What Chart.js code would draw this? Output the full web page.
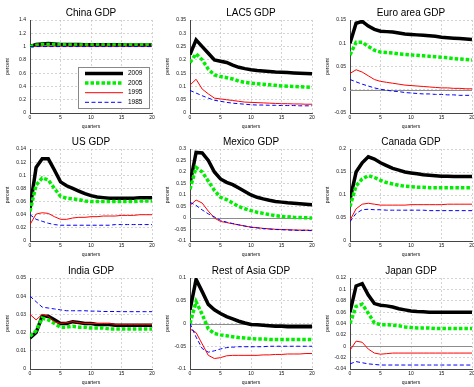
<!DOCTYPE html>
<html>
<head>
<meta charset="utf-8">
<script src="https://cdn.jsdelivr.net/npm/chart.js@4/dist/chart.umd.min.js"></script>
<style>
  html, body { margin: 0; padding: 0; background: #fff; }
  body { width: 474px; height: 387px; position: relative; overflow: hidden; }
  canvas { position: absolute; }
</style>
</head>
<body>
<script>
// x axis: quarters after the shock
const quarters = [0,1,2,3,4,5,6,7,8,9,10,11,12,13,14,15,16,17,18,19,20];
const vintages = ['2009', '2005', '1995', '1985'];

// China GDP
const china2009 = [1.0,1.03,1.04,1.045,1.04,1.033,1.03,1.03,1.03,1.028,1.028,1.027,1.027,1.026,1.026,1.026,1.025,1.025,1.025,1.025,1.025];
const china2005 = [1.0,1.02,1.03,1.03,1.03,1.026,1.025,1.025,1.025,1.025,1.025,1.025,1.025,1.025,1.025,1.025,1.025,1.025,1.025,1.025,1.025];
const china1995 = [1.0,1.004,1.005,1.005,1.005,1.005,1.005,1.005,1.005,1.005,1.005,1.005,1.005,1.005,1.005,1.005,1.005,1.005,1.005,1.005,1.005];
const china1985 = [1.0,1.0,1.0,1.0,1.0,1.0,1.0,1.0,1.0,1.0,1.0,1.0,1.0,1.0,1.0,1.0,1.0,1.0,1.0,1.0,1.0];

// LAC5 GDP
const lac2009 = [0.22,0.275,0.25,0.225,0.2,0.195,0.19,0.18,0.172,0.167,0.163,0.16,0.158,0.156,0.154,0.153,0.152,0.151,0.15,0.149,0.148];
const lac2005 = [0.19,0.223,0.2,0.165,0.143,0.137,0.133,0.128,0.12,0.115,0.112,0.11,0.108,0.106,0.104,0.102,0.101,0.1,0.099,0.098,0.097];
const lac1995 = [0.105,0.127,0.09,0.072,0.056,0.053,0.05,0.047,0.044,0.041,0.04,0.039,0.038,0.037,0.036,0.035,0.035,0.034,0.034,0.033,0.033];
const lac1985 = [0.085,0.075,0.065,0.056,0.048,0.044,0.04,0.037,0.035,0.033,0.031,0.03,0.03,0.029,0.029,0.028,0.028,0.028,0.027,0.027,0.027];

// Euro area GDP
const euro2009 = [0.1,0.143,0.147,0.137,0.13,0.126,0.125,0.124,0.122,0.12,0.119,0.118,0.117,0.116,0.115,0.113,0.112,0.111,0.11,0.109,0.108];
const euro2005 = [0.075,0.102,0.102,0.093,0.085,0.081,0.08,0.079,0.077,0.076,0.075,0.074,0.073,0.072,0.071,0.07,0.069,0.067,0.066,0.065,0.064];
const euro1995 = [0.035,0.043,0.038,0.03,0.022,0.018,0.016,0.014,0.012,0.01,0.009,0.008,0.007,0.006,0.005,0.004,0.004,0.003,0.003,0.002,0.002];
const euro1985 = [0.022,0.017,0.012,0.008,0.004,0.001,-0.001,-0.003,-0.004,-0.006,-0.007,-0.008,-0.009,-0.009,-0.01,-0.01,-0.011,-0.011,-0.012,-0.012,-0.012];

// US GDP
const us2009 = [0.05,0.112,0.125,0.125,0.108,0.09,0.084,0.08,0.076,0.072,0.069,0.067,0.066,0.065,0.065,0.065,0.065,0.065,0.066,0.066,0.066];
const us2005 = [0.045,0.085,0.096,0.093,0.08,0.068,0.065,0.064,0.063,0.061,0.06,0.06,0.06,0.06,0.06,0.06,0.06,0.06,0.061,0.061,0.061];
const us1995 = [0.025,0.041,0.043,0.042,0.037,0.033,0.033,0.035,0.036,0.036,0.037,0.037,0.038,0.038,0.038,0.039,0.039,0.039,0.04,0.04,0.04];
const us1985 = [0.04,0.033,0.03,0.027,0.025,0.024,0.024,0.024,0.024,0.024,0.024,0.024,0.024,0.024,0.025,0.025,0.025,0.025,0.025,0.025,0.025];

// Mexico GDP
const mex2009 = [0.15,0.285,0.283,0.25,0.2,0.17,0.155,0.145,0.13,0.115,0.1,0.09,0.083,0.077,0.072,0.069,0.066,0.064,0.062,0.06,0.058];
const mex2005 = [0.125,0.22,0.2,0.16,0.12,0.09,0.08,0.065,0.05,0.04,0.032,0.025,0.02,0.015,0.01,0.007,0.005,0.003,0.002,0.001,0.0];
const mex1995 = [0.055,0.078,0.065,0.03,0.0,-0.015,-0.02,-0.025,-0.03,-0.035,-0.04,-0.042,-0.045,-0.047,-0.049,-0.05,-0.051,-0.052,-0.053,-0.053,-0.054];
const mex1985 = [0.068,0.055,0.035,0.018,0.005,-0.01,-0.018,-0.024,-0.03,-0.035,-0.04,-0.043,-0.046,-0.048,-0.05,-0.051,-0.052,-0.053,-0.054,-0.054,-0.055];

// Canada GDP
const can2009 = [0.09,0.15,0.17,0.183,0.178,0.17,0.164,0.158,0.154,0.15,0.148,0.146,0.144,0.143,0.142,0.141,0.141,0.14,0.14,0.14,0.14];
const can2005 = [0.075,0.12,0.135,0.142,0.138,0.132,0.127,0.124,0.121,0.119,0.118,0.117,0.117,0.116,0.116,0.116,0.116,0.116,0.116,0.116,0.116];
const can1995 = [0.045,0.07,0.08,0.082,0.08,0.078,0.078,0.078,0.078,0.078,0.079,0.079,0.079,0.079,0.079,0.079,0.08,0.08,0.08,0.08,0.08];
const can1985 = [0.042,0.06,0.068,0.069,0.068,0.068,0.067,0.067,0.067,0.067,0.067,0.067,0.067,0.066,0.066,0.066,0.066,0.066,0.066,0.066,0.066];

// India GDP
const ind2009 = [0.017,0.02,0.029,0.029,0.027,0.025,0.025,0.026,0.0255,0.025,0.025,0.0245,0.0245,0.0245,0.024,0.024,0.024,0.024,0.024,0.024,0.024];
const ind2005 = [0.018,0.021,0.028,0.027,0.025,0.023,0.023,0.0235,0.023,0.023,0.0225,0.0225,0.0225,0.022,0.022,0.022,0.022,0.022,0.022,0.022,0.022];
const ind1995 = [0.03,0.027,0.03,0.029,0.026,0.025,0.0255,0.026,0.0255,0.025,0.025,0.025,0.025,0.025,0.0245,0.0245,0.0245,0.0245,0.0245,0.0245,0.0245];
const ind1985 = [0.04,0.037,0.034,0.0335,0.033,0.0325,0.032,0.032,0.032,0.032,0.0318,0.0318,0.0316,0.0316,0.0316,0.0315,0.0315,0.0315,0.0315,0.0315,0.0315];

// Rest of Asia GDP
const roa2009 = [0.03,0.097,0.07,0.042,0.03,0.022,0.015,0.01,0.005,0.001,-0.002,-0.003,-0.004,-0.005,-0.006,-0.006,-0.007,-0.007,-0.007,-0.007,-0.007];
const roa2005 = [0.0,0.048,0.02,-0.012,-0.022,-0.025,-0.027,-0.029,-0.031,-0.032,-0.033,-0.034,-0.034,-0.035,-0.035,-0.035,-0.035,-0.035,-0.035,-0.035,-0.035];
const roa1995 = [-0.012,-0.02,-0.045,-0.07,-0.077,-0.075,-0.071,-0.07,-0.07,-0.07,-0.07,-0.07,-0.069,-0.069,-0.068,-0.068,-0.067,-0.067,-0.067,-0.066,-0.066];
const roa1985 = [0.0,-0.03,-0.055,-0.063,-0.06,-0.056,-0.053,-0.052,-0.051,-0.051,-0.051,-0.051,-0.051,-0.05,-0.05,-0.05,-0.05,-0.05,-0.05,-0.05,-0.05];

// Japan GDP
const jpn2009 = [0.06,0.106,0.11,0.09,0.075,0.072,0.071,0.069,0.066,0.064,0.062,0.061,0.0605,0.06,0.06,0.06,0.06,0.06,0.06,0.06,0.06];
const jpn2005 = [0.04,0.07,0.074,0.058,0.041,0.038,0.038,0.037,0.036,0.034,0.033,0.032,0.032,0.032,0.031,0.031,0.031,0.031,0.031,0.031,0.031];
const jpn1995 = [-0.007,0.009,0.007,-0.005,-0.012,-0.014,-0.013,-0.012,-0.012,-0.012,-0.012,-0.012,-0.012,-0.012,-0.012,-0.012,-0.012,-0.012,-0.012,-0.012,-0.012];
const jpn1985 = [-0.031,-0.027,-0.029,-0.031,-0.032,-0.033,-0.033,-0.033,-0.033,-0.033,-0.033,-0.033,-0.033,-0.033,-0.033,-0.033,-0.033,-0.033,-0.033,-0.033,-0.033];

// panel titles and y ranges [min, max, step]
const titles = ['China GDP', 'LAC5 GDP', 'Euro area GDP', 'US GDP', 'Mexico GDP', 'Canada GDP', 'India GDP', 'Rest of Asia GDP', 'Japan GDP'];
const yRanges = [[0, 1.4, 0.2], [0, 0.35, 0.05], [-0.05, 0.15, 0.05], [0, 0.14, 0.02], [-0.1, 0.3, 0.05], [0, 0.2, 0.05], [0, 0.05, 0.01], [-0.1, 0.1, 0.05], [-0.04, 0.12, 0.02]];
const series = [
  [china2009, china2005, china1995, china1985],
  [lac2009, lac2005, lac1995, lac1985],
  [euro2009, euro2005, euro1995, euro1985],
  [us2009, us2005, us1995, us1985],
  [mex2009, mex2005, mex1995, mex1985],
  [can2009, can2005, can1995, can1985],
  [ind2009, ind2005, ind1995, ind1985],
  [roa2009, roa2005, roa1995, roa1985],
  [jpn2009, jpn2005, jpn1995, jpn1985]
];

//Line styles per vintage
const lineStyles = [
  { color: '#000000', width: 3.5, dash: [] },
  { color: '#00ee00', width: 3.5, dash: [3.5, 2] },
  { color: '#ff0000', width: 1, dash: [] },
  { color: '#0000ff', width: 1, dash: [4, 2.5] }
];

//Plot area positions (page pixels)
const colX = [[30, 152], [190, 312], [350, 472]];
const rowY = [[20, 113], [149, 241], [278, 369]];

const FONT = "'Liberation Sans', Arial, sans-serif";

//Grey line at zero when zero is inside the y range
const zeroLine = {
  id: 'zeroLine',
  beforeDatasetsDraw(chart) {
    const y = chart.scales.y;
    if (y.min < 0 && y.max > 0) {
      const py = Math.round(y.getPixelForValue(0)) + 0.5;
      const ctx = chart.ctx;
      ctx.save();
      ctx.strokeStyle = '#8c8c8c';
      ctx.lineWidth = 1;
      ctx.beginPath();
      ctx.moveTo(chart.chartArea.left, py);
      ctx.lineTo(chart.chartArea.right, py);
      ctx.stroke();
      ctx.restore();
    }
  }
};

//Panel title centred over the plot area (not the whole canvas)
const panelTitle = {
  id: 'panelTitle',
  afterDraw(chart, args, opts) {
    const ctx = chart.ctx;
    const area = chart.chartArea;
    ctx.save();
    ctx.font = '10px ' + FONT;
    ctx.fillStyle = '#000';
    ctx.textAlign = 'center';
    ctx.textBaseline = 'middle';
    ctx.fillText(opts.text, (area.left + area.right) / 2, area.top - 7);
    ctx.restore();
  }
};

//Legend box inside the China panel
const boxLegend = {
  id: 'boxLegend',
  afterDraw(chart) {
    const ctx = chart.ctx;
    const area = chart.chartArea;
    const w = 71, h = 41;
    const left = area.right - 3 - w;
    const top = area.bottom - 5 - h;
    ctx.save();
    ctx.fillStyle = '#fff';
    ctx.fillRect(left, top, w, h);
    ctx.strokeStyle = '#888';
    ctx.lineWidth = 1;
    ctx.strokeRect(left + 0.5, top + 0.5, w, h);
    ctx.font = '6.5px ' + FONT;
    ctx.textBaseline = 'middle';
    ctx.fillStyle = '#000';
    chart.data.datasets.slice().sort((a, b) => b.order - a.order).forEach((ds, i) => {
      const y = top + 6.5 + i * 9.6;
      ctx.save();
      ctx.strokeStyle = ds.borderColor;
      ctx.lineWidth = ds.borderWidth;
      ctx.setLineDash(ds.borderDash);
      ctx.beginPath();
      ctx.moveTo(left + 7, y);
      ctx.lineTo(left + 45, y);
      ctx.stroke();
      ctx.restore();
      ctx.fillText(ds.label, left + 50, y);
    });
    ctx.restore();
  }
};

function fmt(v) {
  return String(parseFloat(v.toFixed(4)));
}

for (let p = 0; p < 9; p++) {
  const col = p % 3;
  const row = Math.floor(p / 3);
  const [x0, x1] = colX[col];
  const [y0, y1] = rowY[row];
  const padR = col === 2 ? 474 - x1 : 6;

  const canvas = document.createElement('canvas');
  const cw = 30 + (x1 - x0) + padR;
  const ch = 20 + (y1 - y0) + 17;
  canvas.width = cw;
  canvas.height = ch;
  canvas.style.left = (x0 - 30) + 'px';
  canvas.style.top = (y0 - 20) + 'px';
  canvas.style.width = cw + 'px';
  canvas.style.height = ch + 'px';
  document.body.appendChild(canvas);

  const datasets = series[p].map((vals, i) => ({
    label: vintages[i],
    data: vals.map((v, k) => ({ x: quarters[k], y: v })),
    borderColor: lineStyles[i].color,
    borderWidth: lineStyles[i].width,
    borderDash: lineStyles[i].dash,
    borderCapStyle: 'butt',
    pointRadius: 0,
    tension: 0,
    fill: false,
    order: 4 - i
  }));

  const [ymin, ymax, ystep] = yRanges[p];

  new Chart(canvas, {
    type: 'line',
    data: { datasets: datasets },
    options: {
      responsive: false,
      animation: false,
      devicePixelRatio: 1,
      layout: { padding: { left: 0, top: 20, right: padR, bottom: 0 } },
      plugins: {
        legend: { display: false },
        tooltip: { enabled: false },
        title: { display: false },
        panelTitle: { text: titles[p] }
      },
      scales: {
        x: {
          type: 'linear',
          min: 0,
          max: 20,
          ticks: {
            stepSize: 5,
            padding: 2,
            maxRotation: 0,
            color: '#111',
            font: { family: FONT, size: 5 },
            callback: fmt
          },
          grid: { color: '#c8c8c8', lineWidth: 0.8, drawTicks: false },
          border: { display: true, color: '#444', width: 1, dash: [2, 2] },
          title: {
            display: true,
            text: 'quarters',
            color: '#111',
            font: { family: FONT, size: 5 },
            padding: { top: 0, bottom: 0 }
          },
          afterFit(scale) {
            scale.height = 17;
            scale.paddingLeft = 0;
            scale.paddingRight = 0;
          }
        },
        y: {
          min: ymin,
          max: ymax,
          ticks: {
            stepSize: ystep,
            padding: 4,
            color: '#111',
            font: { family: FONT, size: 5 },
            callback: fmt
          },
          grid: { color: '#c8c8c8', lineWidth: 0.8, drawTicks: false },
          border: { display: true, color: '#444', width: 1, dash: [2, 2] },
          title: {
            display: true,
            text: 'percent',
            color: '#111',
            font: { family: FONT, size: 5 },
            padding: { top: 5, bottom: 0 }
          },
          afterFit(scale) {
            scale.width = 30;
            scale.paddingTop = 0;
            scale.paddingBottom = 0;
          }
        }
      }
    },
    plugins: p === 0 ? [zeroLine, panelTitle, boxLegend] : [zeroLine, panelTitle]
  });
}
</script>
</body>
</html>
